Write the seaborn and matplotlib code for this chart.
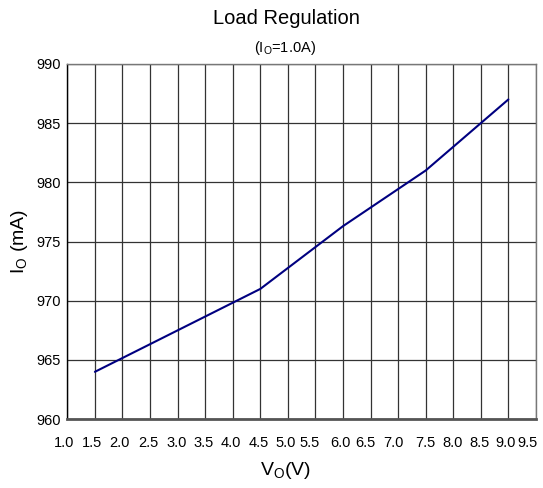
import numpy as np
import pandas as pd
import seaborn as sns
import matplotlib.pyplot as plt
import matplotlib.transforms as mtransforms

vo = [1.5, 4.5, 6.0, 7.5, 9.0]
io = [964.0, 971.0, 976.3, 981.0, 987.0]
x_ticks = [1.0, 1.5, 2.0, 2.5, 3.0, 3.5, 4.0, 4.5, 5.0, 5.5, 6.0, 6.5, 7.0, 7.5, 8.0, 8.5, 9.0, 9.5]
y_ticks = [960, 965, 970, 975, 980, 985, 990]

sns.set_style('white')
plt.rcParams['font.family'] = ['Liberation Sans', 'DejaVu Sans']
plt.rcParams['mathtext.default'] = 'regular'
plt.rcParams['text.color'] = 'black'
plt.rcParams['axes.labelcolor'] = 'black'
plt.rcParams['xtick.color'] = 'black'
plt.rcParams['ytick.color'] = 'black'

df = pd.DataFrame({'vo': vo, 'io': io})

fig = plt.figure(figsize=(5.43, 4.88), dpi=100)
ax = fig.add_axes([0.124, 0.141, 0.863, 0.728])
sns.lineplot(data=df, x='vo', y='io', color='#000080', linewidth=1.5, ax=ax)

ax.set_xlim(1.0, 9.5)
ax.set_ylim(960, 990)
ax.set_xticks(x_ticks)
ax.set_xticklabels([f'{t:.1f}' for t in x_ticks], fontsize=10.5)
ax.set_yticks(y_ticks)
ax.set_yticklabels([str(t) for t in y_ticks], fontsize=10.5)
ax.tick_params(axis='x', length=0, pad=12)
ax.tick_params(axis='y', length=3, color='#333333', pad=2)
ax.grid(True, color='#333333', linewidth=0.9)

# the original's x labels sit a little left of their grid lines
shifts = [-3, -3, -3, -2, -1, -2, -2, -2, -2, -6, -3, -5, -5, 0, -1, -1, -3, -8]
for lab, dx in zip(ax.get_xticklabels(), shifts):
    lab.set_transform(lab.get_transform() + mtransforms.ScaledTranslation(dx / 100, 0, fig.dpi_scale_trans))

for s in ['top', 'right']:
    ax.spines[s].set_color('#777777')
    ax.spines[s].set_linewidth(1.0)
ax.spines['left'].set_color('black')
ax.spines['left'].set_linewidth(1.0)
ax.spines['bottom'].set_color('#555555')
ax.spines['bottom'].set_linewidth(2.0)

ax.set_xlabel('V$_O$(V)', fontsize=14)
ax.xaxis.set_label_coords(0.465, -0.115)
ax.set_ylabel('I$_O$ (mA)', fontsize=14, labelpad=4)
fig.text(0.527, 0.962, 'Load Regulation', ha='center', va='center', fontsize=14.5)
fig.text(0.525, 0.902, '(I$_O$=1.0A)', ha='center', va='center', fontsize=10.5)

plt.savefig('out.png', dpi=100)
